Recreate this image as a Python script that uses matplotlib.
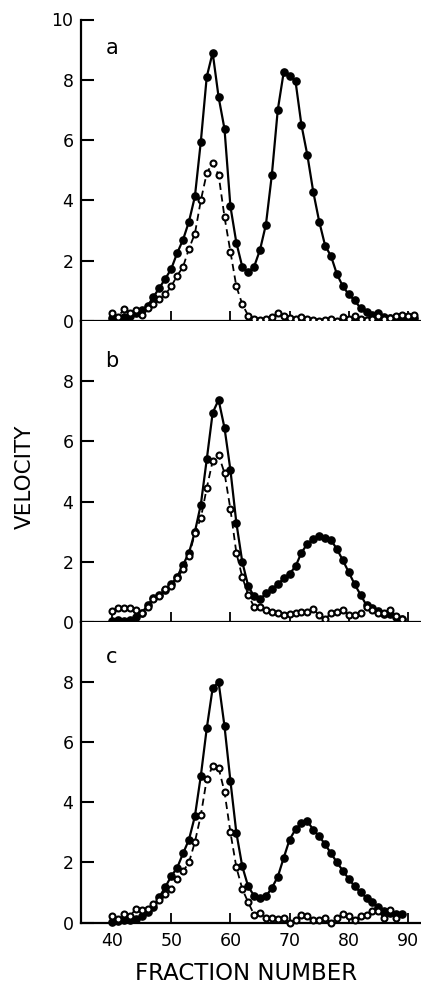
import matplotlib
matplotlib.use("Agg")
import matplotlib.pyplot as plt

# fraction numbers per panel
frac_a = list(range(40, 92))
frac_bc = list(range(40, 90))
frac_c_open = list(range(40, 89))

# panel a
a_filled = [0.1, 0.1, 0.12, 0.15, 0.25, 0.35, 0.5, 0.8, 1.1, 1.4,
            1.73, 2.25, 2.7, 3.3, 4.13, 5.95, 8.1, 8.9, 7.43, 6.37,
            3.8, 2.6, 1.8, 1.62, 1.8, 2.36, 3.2, 4.85, 7.0, 8.25,
            8.12, 7.95, 6.5, 5.5, 4.28, 3.3, 2.5, 2.15, 1.55, 1.15,
            0.88, 0.68, 0.42, 0.3, 0.2, 0.25, 0.12, 0.1, 0.12, 0.15,
            0.12, 0.1]
a_open = [0.25, 0.12, 0.4, 0.25, 0.38, 0.2, 0.42, 0.55, 0.72, 0.88,
          1.15, 1.5, 1.8, 2.4, 2.9, 4.0, 4.9, 5.25, 4.85, 3.45,
          2.3, 1.15, 0.56, 0.18, 0.05, 0.02, 0.05, 0.12, 0.25, 0.15,
          0.1, 0.08, 0.12, 0.05, 0.02, 0.0, 0.02, 0.05, 0.0, 0.12,
          0.05, 0.15, 0.05, 0.02, 0.08, 0.15, 0.05, 0.1, 0.15, 0.2,
          0.15, 0.2]

# panel b
b_filled = [0.02, 0.05, 0.02, 0.08, 0.15, 0.3, 0.55, 0.8, 0.9, 1.05,
            1.25, 1.5, 1.9, 2.3, 3.0, 3.9, 5.4, 6.95, 7.38, 6.45,
            5.05, 3.3, 2.0, 1.2, 0.85, 0.75, 0.95, 1.1, 1.25, 1.45,
            1.6, 1.85, 2.3, 2.6, 2.75, 2.87, 2.8, 2.72, 2.42, 2.05,
            1.65, 1.25, 0.9, 0.55, 0.48, 0.35, 0.28, 0.25, 0.18, 0.1]
b_open = [0.35, 0.45, 0.48, 0.45, 0.4, 0.3, 0.5, 0.75, 0.85, 1.1,
          1.2, 1.45, 1.75, 2.2, 2.95, 3.45, 4.45, 5.35, 5.55, 4.95,
          3.75, 2.3, 1.5, 0.9, 0.5, 0.5, 0.4, 0.34, 0.29, 0.23,
          0.27, 0.29, 0.33, 0.34, 0.42, 0.23, 0.1, 0.29, 0.34, 0.4,
          0.23, 0.23, 0.29, 0.5, 0.4, 0.29, 0.29, 0.4, 0.2, 0.1]

# panel c
c_filled = [0.03, 0.05, 0.07, 0.08, 0.1, 0.2, 0.35, 0.53, 0.85, 1.18,
            1.54, 1.82, 2.3, 2.76, 3.54, 4.88, 6.46, 7.8, 8.0, 6.53,
            4.71, 2.99, 1.87, 1.2, 0.89, 0.81, 0.87, 1.15, 1.52, 2.15,
            2.76, 3.1, 3.3, 3.38, 3.08, 2.87, 2.6, 2.3, 2.0, 1.72,
            1.45, 1.2, 1.0, 0.82, 0.68, 0.5, 0.38, 0.3, 0.28, 0.27]
c_open = [0.2, 0.1, 0.28, 0.2, 0.45, 0.4, 0.45, 0.6, 0.75, 0.95,
          1.1, 1.45, 1.7, 2.0, 2.68, 3.57, 4.77, 5.2, 5.15, 4.35,
          3.0, 1.84, 1.12, 0.67, 0.26, 0.31, 0.14, 0.14, 0.11, 0.14,
          0.0, 0.09, 0.26, 0.22, 0.07, 0.07, 0.14, 0.0, 0.14, 0.29,
          0.2, 0.09, 0.22, 0.26, 0.37, 0.37, 0.14, 0.42, 0.15]

panels = [
    ("a", frac_a, a_filled, frac_a, a_open, [0, 2, 4, 6, 8, 10], 9.06),
    ("b", frac_bc, b_filled, frac_bc, b_open, [0, 2, 4, 6, 8], 8.68),
    ("c", frac_bc, c_filled, frac_c_open, c_open, [0, 2, 4, 6, 8], 8.84),
]
xticks = [40, 50, 60, 70, 80, 90]

plt.rcParams["font.family"] = ["DejaVu Sans"]
fig = plt.figure(figsize=(4.21, 9.86), dpi=100)

W, H = 421.0, 986.0
left = 80.5 / W
tops = [19.5, 321.0, 622.0]
bottoms = [321.0, 622.0, 922.5]

for i, (lab, xf, yf, xo, yo, yt, ylab) in enumerate(panels):
    ax = fig.add_axes([left, 1 - bottoms[i] / H, 1 - left, (bottoms[i] - tops[i]) / H])
    ax.plot(xf, yf, "-o", color="black", lw=1.6, ms=5.2, clip_on=False, zorder=3)
    ax.plot(xo, yo, "--o", color="black", lw=1.3, ms=4.3, mfc="white",
            mec="black", mew=1.5, dashes=(4, 2.5), clip_on=False, zorder=4)
    ax.set_xlim(34.67, 92.2)
    ax.set_ylim(0, 10)
    ax.set_yticks(yt)
    ax.set_xticks(xticks)
    for s in ("top", "right"):
        ax.spines[s].set_visible(False)
    for s in ("left", "bottom"):
        ax.spines[s].set_linewidth(1.6)
    ax.tick_params(axis="y", direction="in", length=9.5, width=1.5,
                   labelsize=12.5, pad=5)
    ax.tick_params(axis="x", direction="in", length=7, width=1.3,
                   labelsize=12.5, pad=7)
    if i < 2:
        ax.tick_params(axis="x", labelbottom=False)
    ax.text(40, ylab, lab, fontsize=15, ha="center", va="center")

fig.text(25 / W, 1 - 477 / H, "VELOCITY", rotation=90, ha="center",
         va="center", fontsize=15.5)
fig.text(246 / W, 1 - 974 / H, "FRACTION NUMBER", ha="center",
         va="center", fontsize=16.5)

fig.savefig("out.png", dpi=100)
